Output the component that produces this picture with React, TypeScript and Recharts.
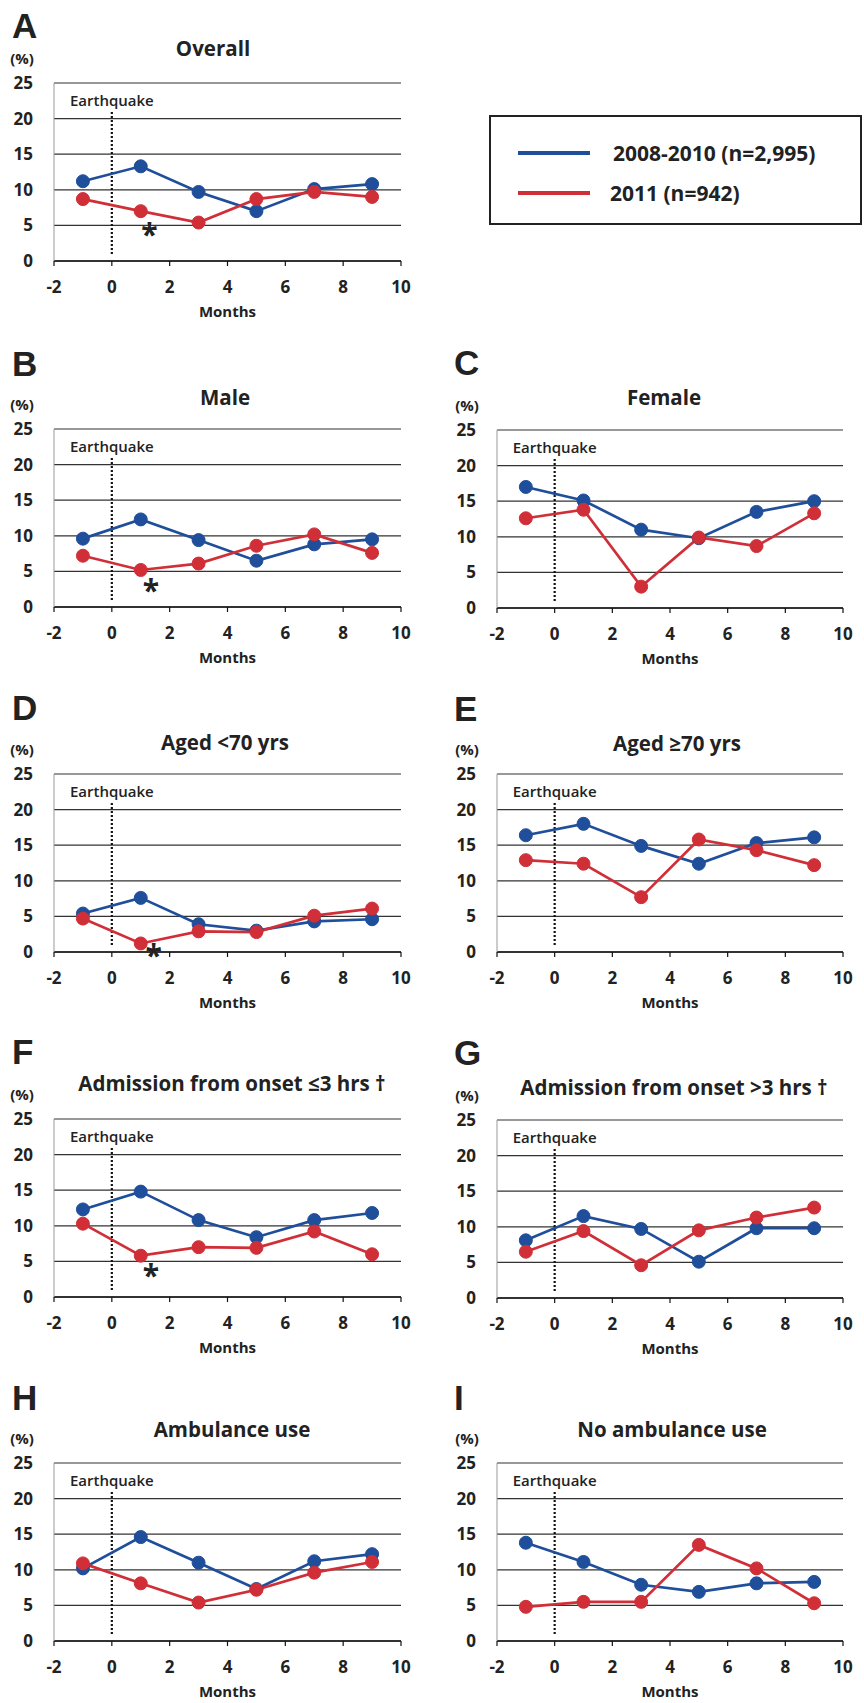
import React from 'react';
import {
  LineChart,
  Line,
  XAxis,
  YAxis,
  CartesianGrid,
  ReferenceLine,
  ReferenceDot,
} from 'recharts';

// months relative to the earthquake
const months = [-1, 1, 3, 5, 7, 9];
const xTicks = [-2, 0, 2, 4, 6, 8, 10];
const yTicks = [0, 5, 10, 15, 20, 25];

const seriesNames = ['2008-2010 (n=2,995)', '2011 (n=942)'];

const overallBase = [11.2, 13.3, 9.7, 7.0, 10.1, 10.8];
const overall2011 = [8.7, 7.0, 5.4, 8.7, 9.7, 9.0];
const maleBase = [9.6, 12.3, 9.4, 6.5, 8.8, 9.5];
const male2011 = [7.2, 5.2, 6.1, 8.6, 10.2, 7.6];
const femaleBase = [17.0, 15.1, 11.0, 9.8, 13.5, 15.0];
const female2011 = [12.6, 13.8, 3.0, 9.9, 8.7, 13.3];
const youngBase = [5.4, 7.6, 3.9, 3.0, 4.3, 4.6];
const young2011 = [4.7, 1.2, 2.9, 2.8, 5.1, 6.1];
const oldBase = [16.4, 18.0, 14.9, 12.4, 15.3, 16.1];
const old2011 = [12.9, 12.4, 7.7, 15.8, 14.3, 12.2];
const earlyBase = [12.3, 14.8, 10.8, 8.4, 10.8, 11.8];
const early2011 = [10.3, 5.8, 7.0, 6.9, 9.2, 6.0];
const lateBase = [8.1, 11.5, 9.7, 5.1, 9.8, 9.8];
const late2011 = [6.5, 9.4, 4.6, 9.5, 11.3, 12.7];
const ambBase = [10.2, 14.6, 11.0, 7.3, 11.2, 12.2];
const amb2011 = [10.9, 8.1, 5.4, 7.2, 9.6, 11.1];
const noAmbBase = [13.8, 11.1, 7.9, 6.9, 8.1, 8.3];
const noAmb2011 = [4.8, 5.5, 5.5, 13.5, 10.2, 5.3];

const BLUE = '#1f4e9b';
const RED = '#d02f38';
const FONT = '"Open Sans", Lato, sans-serif';
const INK = '#222';

type Panel = {
  letter: string;
  title: string;
  base: number[];
  y2011: number[];
  star?: { x: number; y: number };
  col: 0 | 1;
  top: number; // pixel y of the 25% gridline
  letterY: number;
  titleY: number;
  titleX: number;
};

const panels: Panel[] = [
  { letter: 'A', title: 'Overall', base: overallBase, y2011: overall2011, star: { x: 1.3, y: 3.8 }, col: 0, top: 83, letterY: 25, titleY: 48, titleX: 213 },
  { letter: 'B', title: 'Male', base: maleBase, y2011: male2011, star: { x: 1.35, y: 2.4 }, col: 0, top: 429, letterY: 363, titleY: 397, titleX: 225 },
  { letter: 'C', title: 'Female', base: femaleBase, y2011: female2011, col: 1, top: 430, letterY: 362, titleY: 397, titleX: 664 },
  { letter: 'D', title: 'Aged <70 yrs', base: youngBase, y2011: young2011, star: { x: 1.45, y: -0.5 }, col: 0, top: 774, letterY: 707, titleY: 742, titleX: 225 },
  { letter: 'E', title: 'Aged ≥70 yrs', base: oldBase, y2011: old2011, col: 1, top: 774, letterY: 708, titleY: 743, titleX: 677 },
  { letter: 'F', title: 'Admission from onset ≤3 hrs †', base: earlyBase, y2011: early2011, star: { x: 1.35, y: 3.0 }, col: 0, top: 1119, letterY: 1051, titleY: 1083, titleX: 232 },
  { letter: 'G', title: 'Admission from onset >3 hrs †', base: lateBase, y2011: late2011, col: 1, top: 1120, letterY: 1052, titleY: 1087, titleX: 674 },
  { letter: 'H', title: 'Ambulance use', base: ambBase, y2011: amb2011, col: 0, top: 1463, letterY: 1397, titleY: 1429, titleX: 232 },
  { letter: 'I', title: 'No ambulance use', base: noAmbBase, y2011: noAmb2011, col: 1, top: 1463, letterY: 1397, titleY: 1429, titleX: 672 },
];

const abs = (left: number, top: number, extra: React.CSSProperties = {}): React.CSSProperties => ({
  position: 'absolute',
  left,
  top,
  fontFamily: FONT,
  fontWeight: 700,
  color: INK,
  lineHeight: 1,
  whiteSpace: 'nowrap',
  ...extra,
});

const PanelChart: React.FC<{ p: Panel }> = ({ p }) => {
  const data = months.map((m, i) => ({ month: m, base: p.base[i], y2011: p.y2011[i] }));
  const left = p.col === 0 ? 0 : 432;
  const width = p.col === 0 ? 420 : 430;
  const marginLeft = p.col === 0 ? 14 : 25;
  const tickStyle = { fontFamily: FONT, fontWeight: 700, fontSize: 17, fill: INK };
  return (
    <div style={{ position: 'absolute', left, top: p.top - 20 }}>
      <LineChart
        width={width}
        height={258}
        data={data}
        margin={{ top: 20, right: 19, left: marginLeft, bottom: 0 }}
      >
        <CartesianGrid vertical={false} stroke="#333" strokeWidth={1.2} />
        <XAxis
          dataKey="month"
          type="number"
          domain={[-2, 10]}
          ticks={xTicks}
          height={60}
          tickSize={5}
          tickMargin={15}
          tick={tickStyle}
          axisLine={{ stroke: '#111', strokeWidth: 1.5 }}
          tickLine={{ stroke: '#111', strokeWidth: 1.2 }}
          label={{
            value: 'Months',
            position: 'insideBottom',
            offset: 4,
            style: { fontFamily: FONT, fontWeight: 700, fontSize: 15, fill: INK },
          }}
        />
        <YAxis
          type="number"
          domain={[0, 25]}
          ticks={yTicks}
          width={40}
          tickSize={19}
          tickMargin={2}
          tickLine={false}
          tick={tickStyle}
          axisLine={{ stroke: '#999', strokeWidth: 1 }}
        />
        <ReferenceLine
          segment={[{ x: 0, y: 1 }, { x: 0, y: 21 }]}
          stroke="#111"
          strokeWidth={2.2}
          strokeDasharray="2 2"
          label={{
            value: 'Earthquake',
            position: 'top',
            offset: 5,
            style: { fontFamily: FONT, fontWeight: 600, fontSize: 15, fill: INK },
          }}
        />
        <Line
          dataKey="base"
          stroke={BLUE}
          strokeWidth={2.7}
          dot={{ r: 6.5, fill: BLUE, stroke: BLUE, strokeWidth: 1 }}
          isAnimationActive={false}
        />
        <Line
          dataKey="y2011"
          stroke={RED}
          strokeWidth={2.7}
          dot={{ r: 6.5, fill: RED, stroke: RED, strokeWidth: 1 }}
          isAnimationActive={false}
        />
        {p.star && (
          <ReferenceDot
            x={p.star.x}
            y={p.star.y}
            r={0}
            ifOverflow="visible"
            label={{
              value: '*',
              position: 'center',
              style: { fontFamily: FONT, fontWeight: 700, fontSize: 30, fill: INK },
            }}
          />
        )}
      </LineChart>
    </div>
  );
};

const App: React.FC = () => {
  return (
    <div style={{ position: 'absolute', left: 0, top: 0, width: 864, height: 1703, background: '#fff', overflow: 'hidden' }}>
      {panels.map((p) => {
        const colLeft = p.col === 0 ? 0 : 442;
        const pctX = p.col === 0 ? 22 : 467;
        return (
          <React.Fragment key={p.letter}>
            <div style={abs(colLeft + 12, p.letterY, { fontFamily: '"Liberation Sans", Arial, sans-serif', fontSize: 35, transform: 'translateY(-50%)' })}>
              {p.letter}
            </div>
            <div style={abs(p.titleX, p.titleY, { fontSize: 20.5, transform: 'translate(-50%, -50%)' })}>
              {p.title}
            </div>
            <div style={abs(pctX, p.top - 25, { fontSize: 15, transform: 'translate(-50%, -50%)' })}>(%)</div>
            <PanelChart p={p} />
          </React.Fragment>
        );
      })}
      <div
        style={{
          position: 'absolute',
          left: 489,
          top: 115,
          width: 369,
          height: 106,
          border: '2px solid #222',
          fontFamily: FONT,
          fontWeight: 700,
          color: INK,
        }}
      >
        {[BLUE, RED].map((c, i) => (
          <div key={c} style={{ position: 'absolute', left: 0, top: i === 0 ? 22 : 62, height: 28, width: 369 }}>
            <div style={{ position: 'absolute', left: 27, top: 12, width: 72, height: 4, background: c }} />
            <div style={{ position: 'absolute', left: i === 0 ? 122 : 119, top: 0, fontSize: 21, lineHeight: '28px', whiteSpace: 'nowrap' }}>
              {seriesNames[i]}
            </div>
          </div>
        ))}
      </div>
    </div>
  );
};

export default App;
